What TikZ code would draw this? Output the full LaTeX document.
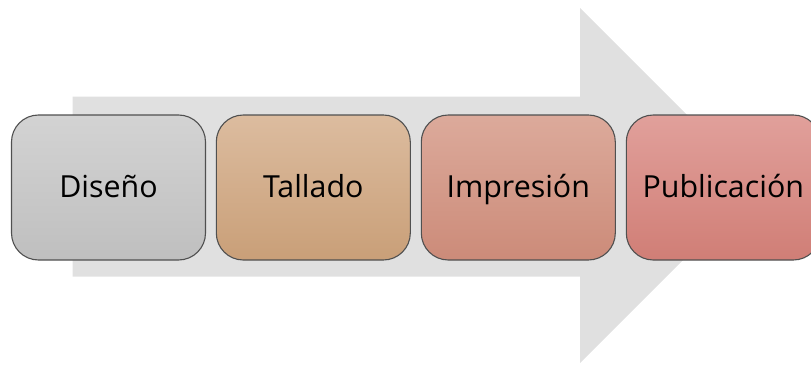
\documentclass[tikz,border=0pt]{standalone}
\usepackage{fontspec}
\setmainfont{Open Sans}
\definecolor{arrowgrey}{HTML}{E0E0E0}
\definecolor{edgegrey}{HTML}{505050}
\definecolor{gA1}{HTML}{D3D3D3}\definecolor{gA2}{HTML}{BFBFBF}
\definecolor{gB1}{HTML}{DCBC9F}\definecolor{gB2}{HTML}{C99F78}
\definecolor{gC1}{HTML}{DCAA9B}\definecolor{gC2}{HTML}{CC8B79}
\definecolor{gD1}{HTML}{E1A09B}\definecolor{gD2}{HTML}{D07E76}
\tikzset{
  stagebox/.style={draw=edgegrey, line width=1.1bp, rounded corners=27bp,
    minimum width=194bp, minimum height=145bp, inner sep=0pt,
    text height=28bp, text depth=9bp,
    font=\fontsize{30.5}{36}\selectfont, text=black},
}
\begin{document}
\begin{tikzpicture}[x=1bp,y=1bp]
\useasboundingbox (0,0) rectangle (811,365);
\clip (0,0) rectangle (811,365);
\fill[arrowgrey] (72.7,268.3) -- (580,268.3) -- (580,357) -- (757.5,179.5)
  -- (580,2) -- (580,88.3) -- (72.7,88.3) -- cycle;
\node[stagebox, top color=gA1, bottom color=gA2] (dis) at (108.5,177.5) {Diseño};
\node[stagebox, top color=gB1, bottom color=gB2] (tal) at (313.3,177.5) {Tallado};
\node[stagebox, top color=gC1, bottom color=gC2] (imp) at (518.3,177.5) {Impresión};
\node[stagebox, top color=gD1, bottom color=gD2] (pub) at (723.3,177.5) {Publicación};
\end{tikzpicture}
\end{document}
